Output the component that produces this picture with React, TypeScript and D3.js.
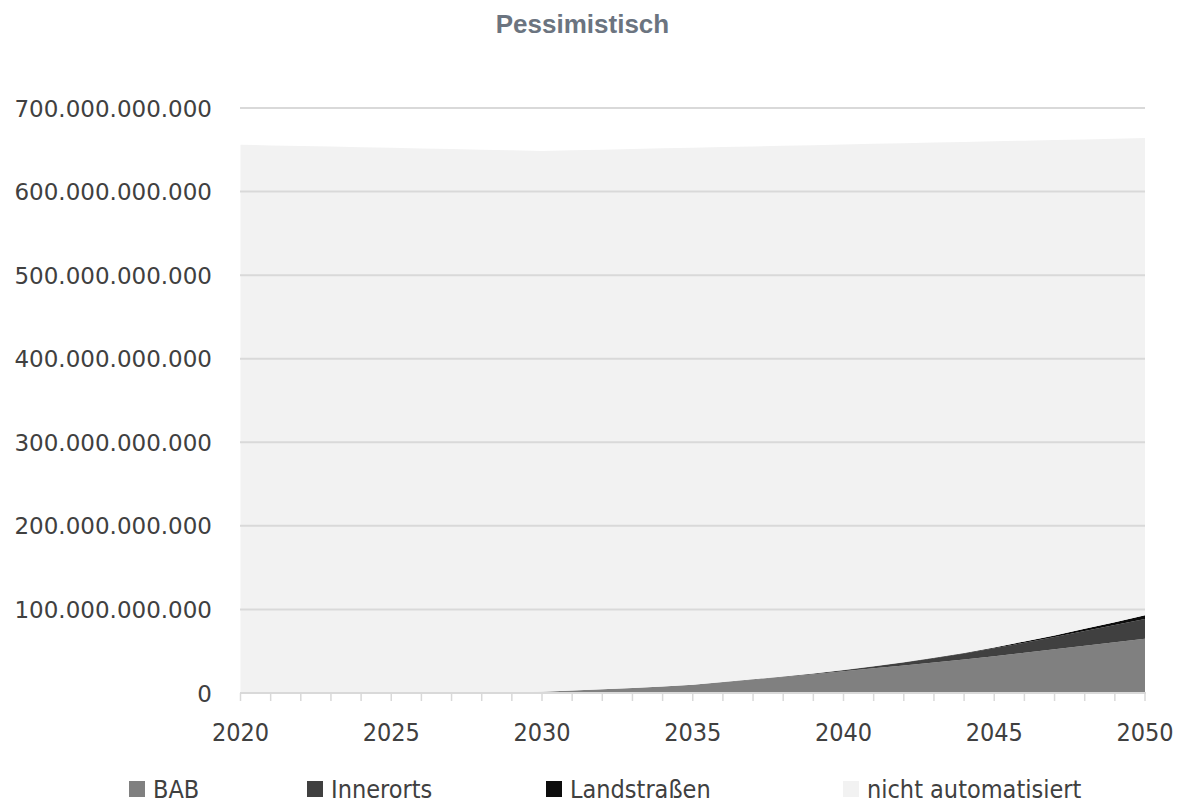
import React from "react";
import * as d3 from "d3";

const years: number[] = d3.range(2020, 2051);

// values in billions (Mrd.)
const bab: number[] = [
  0, 0, 0, 0, 0, 0, 0, 0.1, 0.3, 0.8,
  1.5, 2.9, 4.4, 6.0, 7.8, 10.0, 13.0, 16.0, 19.2, 22.5,
  26.0, 29.5, 33.0, 36.6, 40.2, 44.0, 48.2, 52.4, 56.6, 60.8,
  65.0,
];
const innerorts: number[] = [
  0, 0, 0, 0, 0, 0, 0, 0, 0, 0,
  0, 0, 0, 0, 0, 0, 0.2, 0.4, 0.6, 0.9,
  1.3, 2.3, 3.5, 5.0, 7.0, 9.5, 12.0, 14.5, 17.5, 20.5,
  23.5,
];
const landstrassen: number[] = [
  0, 0, 0, 0, 0, 0, 0, 0, 0, 0,
  0, 0, 0, 0, 0, 0, 0, 0, 0, 0,
  0.2, 0.3, 0.4, 0.6, 0.8, 1.0, 1.5, 2.0, 2.7, 3.5,
  4.5,
];
const nichtAutomatisiert: number[] = [
  656.0, 655.2, 654.5, 653.8, 653.0, 652.3, 651.5, 650.7, 649.8, 648.5,
  647.1, 646.5, 645.7, 644.9, 643.9, 642.4, 640.0, 637.6, 634.9, 632.1,
  628.8, 625.0, 620.9, 616.4, 611.4, 605.6, 599.2, 592.8, 585.6, 578.4,
  571.0,
];

const seriesNames: string[] = ["BAB", "Innerorts", "Landstraßen", "nicht automatisiert"];
const seriesColors: string[] = ["#808080", "#404040", "#0d0d0d", "#f2f2f2"];
const yTicks: number[] = [0, 100, 200, 300, 400, 500, 600, 700].map((v) => v * 1e9);
const xLabelYears: number[] = [2020, 2025, 2030, 2035, 2040, 2045, 2050];
const title = "Pessimistisch";

const W = 1184;
const H = 803;
const left = 240.5;
const right = 1145;
const top = 108;
const bottom = 693;

const deLocale = d3.formatLocale({
  decimal: ",",
  thousands: ".",
  grouping: [3],
  currency: ["", " €"],
});
const fmt = deLocale.format(",.0f");

export default function App() {
  const x = d3.scaleLinear().domain([2020, 2050]).range([left, right]);
  const y = d3.scaleLinear().domain([0, 700e9]).range([bottom, top]);

  const table = years.map((yr, i) => ({
    year: yr,
    s0: bab[i] * 1e9,
    s1: innerorts[i] * 1e9,
    s2: landstrassen[i] * 1e9,
    s3: nichtAutomatisiert[i] * 1e9,
  }));
  const stack = d3.stack<any>().keys(["s0", "s1", "s2", "s3"]);
  const stacked = stack(table);
  const area = d3
    .area<any>()
    .x((d) => x(d.data.year))
    .y0((d) => y(d[0]))
    .y1((d) => y(d[1]));

  const legendX = [129, 307, 546, 843];

  return (
    <svg
      width={W}
      height={H}
      style={{ position: "absolute", left: 0, top: 0, display: "block", background: "#fff" }}
    >
      <text
        x={582.5}
        y={33}
        textAnchor="middle"
        fontFamily="Liberation Sans, Arial, sans-serif"
        fontWeight="bold"
        fontSize={26}
        fill="#6b7480"
      >
        {title}
      </text>

      {stacked.map((s, i) => (
        <path key={i} d={area(s as any) || ""} fill={seriesColors[i]} />
      ))}

      {yTicks.slice(1).map((t) => (
        <line key={t} x1={left - 0.5} x2={right} y1={y(t)} y2={y(t)} stroke="#d9d9d9" strokeWidth={2} />
      ))}
      <line x1={left - 0.5} x2={right + 1} y1={bottom} y2={bottom} stroke="#d9d9d9" strokeWidth={2} />
      {years.map((yr) => (
        <line key={yr} x1={x(yr)} x2={x(yr)} y1={bottom} y2={bottom + 8} stroke="#d9d9d9" strokeWidth={1.5} />
      ))}

      {yTicks.map((t) => (
        <text
          key={t}
          x={212}
          y={y(t) + 8.5}
          textAnchor="end"
          fontFamily="DejaVu Sans, sans-serif"
          fontSize={23}
          fill="#404040"
        >
          {fmt(t)}
        </text>
      ))}

      {xLabelYears.map((yr) => (
        <text
          key={yr}
          x={x(yr)}
          y={741}
          textAnchor="middle"
          fontFamily="DejaVu Sans Condensed, DejaVu Sans, sans-serif"
          fontStretch="condensed"
          fontSize={25}
          fill="#404040"
        >
          {yr}
        </text>
      ))}

      {seriesNames.map((n, i) => (
        <g key={n}>
          <rect x={legendX[i]} y={781} width={16} height={16} fill={seriesColors[i]} />
          <text
            x={legendX[i] + 24}
            y={797.5}
            fontFamily="DejaVu Sans Condensed, DejaVu Sans, sans-serif"
            fontStretch="condensed"
            fontSize={25}
            fill="#404040"
          >
            {n}
          </text>
        </g>
      ))}
    </svg>
  );
}
